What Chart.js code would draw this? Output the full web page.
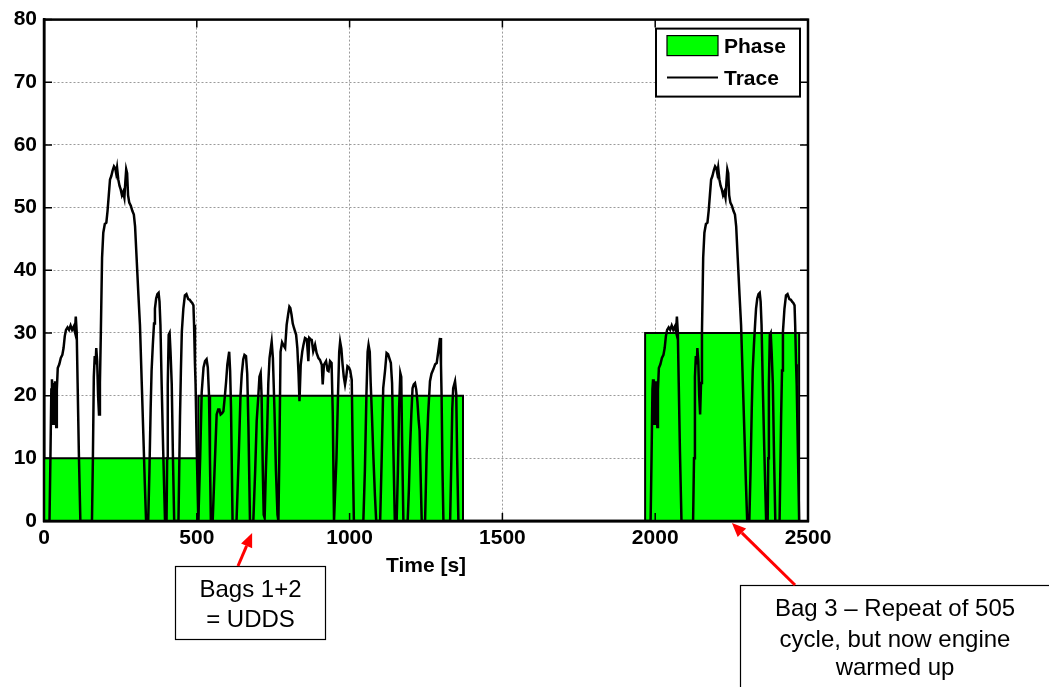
<!DOCTYPE html>
<html><head><meta charset="utf-8">
<script src="https://cdn.jsdelivr.net/npm/chart.js@4.4.0/dist/chart.umd.min.js"></script>
<style>html,body{margin:0;padding:0;background:#fff;} canvas{display:block;}</style>
</head><body>
<canvas id="c" width="1049" height="687"></canvas>
<script>
const xTicks = [0, 500, 1000, 1500, 2000, 2500];
const yTicks = [0, 10, 20, 30, 40, 50, 60, 70, 80];
const xTitle = 'Time [s]';
const legendLabels = ['Phase', 'Trace'];

const phaseStart = [0, 505, 1967];
const phaseEnd = [505, 1371, 2471];
const phaseLevel = [10, 20, 30];

const bag1Trace = [
[0,0],[18,0],[21,10],[24,21],[26,22.6],[28,18],[30,15.5],[32,22],[34,15.5],[36,22.3],[38,17],[40,15],[42,21],[45,24.4],[50,25],[55,26],[60,26.5],[64,27.6],[68,29.5],[72,30.5],[77,30.9],[82,30.5],[87,31.2],[92,30.5],[97,31],[101,30.2],[104,32.6],[107,30.2],[110,22],[114,11],[119,0],
[157,0],[160,10],[163,23],[166,26.3],[169,25],[171,27.6],[174,25.5],[177,20],[180,17],[183,22],[186,30],[190,42],[194,46],[199,47.4],[204,47.6],[208,49.5],[212,52],[216,54.5],[220,55],[225,56],[229,56.6],[233,56.3],[236,55.5],[239,56.4],[243,54.5],[247,53.5],[251,52.9],[255,52],[259,52.5],[263,51.6],[266,54],[269,56.1],[272,55.5],[275,52],[279,50.8],[284,50.3],[289,49.5],[294,48.9],[298,47],[303,42],[309,36],[314,31.3],[320,21.8],[325,13.9],[330,5.8],[334,0],
[341,0],[345,8],[349,18],[352,23.9],[356,28],[360,31.5],[363,33.9],[367,35.5],[371,36.2],[375,36.4],[378,35],[381,31.3],[385,21.8],[390,11.3],[396,0],
[401,0],[403,10],[405,21.8],[408,29.7],[411,30],[414,27],[418,21.8],[422,10],[426,0],
[440,0],[445,16.5],[448,24],[451,30.2],[456,33.9],[461,36],[466,36.2],[472,35.4],[477,35.3],[481,35],[485,34.8],[489,34.4],[491,31.3],[494,25],[496,21.8],[500,11],[505,0]
];

const bag2Trace = [
[511,10],[516,20.5],[522,24.5],[527,25.5],[532,25.8],[536,24.5],[540,20],[543,10],[546,0],
[552,0],[558,8],[565,17],[570,17.8],[574,17.8],[578,17],[583,17.2],[587,17.5],[592,20],[596,22.3],[600,25],[603,26],[606,27],[609,24],[612,18],[617,0],
[630,0],[637,10],[643,20],[647,23.4],[652,25.8],[656,26.5],[661,26.3],[665,23.5],[669,15],[674,0],
[685,0],[691,8],[696,16],[701,19.7],[705,23],[709,23.6],[712,20],[716,8],[719,1],[722,0.5],[726,8],[730,14],[734,22],[738,26],[742,27.5],[745,28.6],[749,26],[754,18],[759,8],[764,1],[767,0],
[770,10],[774,27],[779,28.5],[784,28],[789,27.6],[794,31.3],[799,33],[803,34.2],[806,34],[810,32.9],[814,31.5],[818,30.8],[825,29.7],[829,27.6],[833,23.4],[836,19.1],[840,24.9],[845,27],[849,28.1],[854,29.2],[860,29],[863,27],[865,25.5],[868,29.2],[872,29],[876,28.9],[881,27.1],[887,28.1],[892,26.8],[898,26],[903,25.7],[909,24.9],[912,21.8],[916,24.9],[923,25.5],[928,24],[931,23.9],[936,25.5],[941,25.2],[945,17],[949,0],
[952,0],[957,10],[962,20],[966,27],[969,28.6],[973,27.5],[977,25],[981,23],[985,21.8],[989,23],[993,24.7],[998,24.5],[1002,24],[1007,22.5],[1010,12],[1014,0],
[1045,0],[1050,8],[1055,20],[1059,27],[1062,28.1],[1066,27],[1069,22],[1073,17],[1078,10],[1083,4],[1087,0],
[1100,0],[1105,10],[1110,21.2],[1116,24],[1121,26.8],[1126,26.6],[1130,26],[1135,25.2],[1139,22],[1143,12],[1148,0],
[1154,0],[1158,8],[1162,18],[1166,23.6],[1169,23],[1172,12],[1176,0],
[1190,0],[1194,5],[1198,11.8],[1202,17],[1206,21.2],[1210,21.8],[1214,22],[1218,21],[1222,19],[1226,16],[1229,14.4],[1233,6],[1236,0],
[1247,0],[1252,10.7],[1257,17],[1263,22.3],[1268,23.5],[1274,24.2],[1280,25],[1285,25.2],[1290,27],[1294,28.5],[1296,29.2],[1299,25],[1301,19.9],[1304,8],[1307,0],
[1329,0],[1333,10],[1336,18],[1339,21.2],[1345,22.3],[1349,20.2],[1352,10],[1356,0],[1371,0]
];

const idleTrace = [[1371,0],[1967,0]];

const bag3Trace = [
[1967,0],[1985,0],[1988,10],[1991,21],[1993,22.6],[1995,18],[1997,15.5],[1999,22],[2001,15.5],[2003,22.3],[2005,17],[2007,15],[2009,21],[2012,24.4],[2017,25],[2022,26],[2027,26.5],[2031,27.6],[2035,29.5],[2039,30.5],[2044,30.9],[2049,30.5],[2054,31.2],[2059,30.5],[2064,31],[2068,30.2],[2071,32.6],[2074,30.2],[2077,22],[2081,11],[2086,0],
[2124,0],[2127,10],[2130,23],[2133,26.3],[2136,25],[2138,27.6],[2141,25.5],[2144,20],[2147,17],[2150,22],[2153,30],[2157,42],[2161,46],[2166,47.4],[2171,47.6],[2175,49.5],[2179,52],[2183,54.5],[2187,55],[2192,56],[2196,56.6],[2200,56.3],[2203,55.5],[2206,56.4],[2210,54.5],[2214,53.5],[2218,52.9],[2222,52],[2226,52.5],[2230,51.6],[2233,54],[2236,56.1],[2239,55.5],[2242,52],[2246,50.8],[2251,50.3],[2256,49.5],[2261,48.9],[2265,47],[2270,42],[2276,36],[2281,31.3],[2287,21.8],[2292,13.9],[2297,5.8],[2301,0],
[2308,0],[2312,8],[2316,18],[2319,23.9],[2323,28],[2327,31.5],[2330,33.9],[2334,35.5],[2338,36.2],[2342,36.4],[2345,35],[2348,31.3],[2352,21.8],[2357,11.3],[2363,0],
[2368,0],[2370,10],[2372,21.8],[2375,29.7],[2378,30],[2381,27],[2385,21.8],[2389,10],[2393,0],
[2407,0],[2412,16.5],[2415,24],[2418,30.2],[2423,33.9],[2428,36],[2433,36.2],[2439,35.4],[2444,35.3],[2448,35],[2452,34.8],[2456,34.4],[2458,31.3],[2461,25],[2463,21.8],[2467,11],[2471,0]
];

const FONT = "'Liberation Sans', Arial, sans-serif";

const tracePoints = [...bag1Trace, ...bag2Trace, ...idleTrace, ...bag3Trace].map(p => ({x: p[0], y: p[1]}));
const phasePoints = [];
phaseStart.forEach((s, i) => {
  phasePoints.push({x: s, y: 0}, {x: s, y: phaseLevel[i]}, {x: phaseEnd[i], y: phaseLevel[i]}, {x: phaseEnd[i], y: 0});
});

function arrow(ctx, x0, y0, x1, y1) {
  const ang = Math.atan2(y1 - y0, x1 - x0), L = 14, W = 6;
  const bx = x1 - L * Math.cos(ang), by = y1 - L * Math.sin(ang);
  ctx.beginPath(); ctx.moveTo(x0, y0); ctx.lineTo(bx, by); ctx.stroke();
  ctx.beginPath(); ctx.moveTo(x1, y1);
  ctx.lineTo(bx + W * Math.sin(ang), by - W * Math.cos(ang));
  ctx.lineTo(bx - W * Math.sin(ang), by + W * Math.cos(ang));
  ctx.closePath(); ctx.fill();
}

const decor = {
  id: 'decor',
  afterDatasetsDraw(chart) {
    const {ctx, chartArea: a, scales: {x, y}} = chart;
    ctx.save();
    ctx.strokeStyle = '#000';
    ctx.lineWidth = 1.5;
    ctx.beginPath();
    xTicks.forEach(v => {
      const px = x.getPixelForValue(v);
      ctx.moveTo(px, a.bottom); ctx.lineTo(px, a.bottom - 8);
      ctx.moveTo(px, a.top); ctx.lineTo(px, a.top + 8);
    });
    yTicks.forEach(v => {
      const py = y.getPixelForValue(v);
      ctx.moveTo(a.left, py); ctx.lineTo(a.left + 8, py);
      ctx.moveTo(a.right, py); ctx.lineTo(a.right - 8, py);
    });
    ctx.stroke();
    ctx.lineWidth = 2.5;
    ctx.strokeRect(a.left, a.top, a.right - a.left, a.bottom - a.top);

    // legend
    const lx = a.right - 152, ly = a.top + 9, lw = 144, lh = 68;
    ctx.fillStyle = '#fff';
    ctx.fillRect(lx, ly, lw, lh);
    ctx.lineWidth = 2;
    ctx.strokeRect(lx, ly, lw, lh);
    ctx.fillStyle = '#00ff00';
    ctx.fillRect(lx + 11, ly + 7, 51, 20);
    ctx.lineWidth = 1.2;
    ctx.strokeRect(lx + 11, ly + 7, 51, 20);
    ctx.lineWidth = 2;
    ctx.beginPath(); ctx.moveTo(lx + 11, ly + 49); ctx.lineTo(lx + 62, ly + 49); ctx.stroke();
    ctx.fillStyle = '#000';
    ctx.font = 'bold 21px ' + FONT;
    ctx.textAlign = 'left'; ctx.textBaseline = 'middle';
    ctx.fillText(legendLabels[0], lx + 68, ly + 19);
    ctx.fillText(legendLabels[1], lx + 68, ly + 51);
    ctx.restore();
  },
  afterDraw(chart) {
    const {ctx, scales: {x}} = chart;
    ctx.save();
    ctx.strokeStyle = '#000';
    ctx.lineWidth = 1.2;
    ctx.strokeRect(175.5, 566.5, 150, 73);
    ctx.strokeRect(740.5, 585.5, 400, 200);
    ctx.fillStyle = '#000';
    ctx.font = '24px ' + FONT;
    ctx.textAlign = 'center'; ctx.textBaseline = 'alphabetic';
    ctx.fillText('Bags 1+2', 250.5, 597);
    ctx.fillText('= UDDS', 250.5, 627);
    ctx.fillText('Bag 3 \u2013 Repeat of 505', 895, 615.5);
    ctx.fillText('cycle, but now engine', 895, 646.5);
    ctx.fillText('warmed up', 895, 675);
    ctx.strokeStyle = '#ff0000'; ctx.fillStyle = '#ff0000';
    ctx.lineWidth = 3;
    arrow(ctx, 238, 566, x.getPixelForValue(681), 533);
    arrow(ctx, 795, 585, x.getPixelForValue(2251), 523);
    ctx.restore();
  }
};

new Chart(document.getElementById('c'), {
  type: 'line',
  data: {
    datasets: [
      {label: legendLabels[1], data: tracePoints, borderColor: '#000', borderWidth: 2.5, pointRadius: 0, fill: false, tension: 0, order: 0},
      {label: legendLabels[0], data: phasePoints, borderColor: '#000', borderWidth: 2, backgroundColor: '#00ff00', fill: 'origin', pointRadius: 0, tension: 0, order: 1}
    ]
  },
  options: {
    responsive: false,
    animation: false,
    devicePixelRatio: 1,
    layout: {padding: {left: 0, top: 16, right: 241, bottom: 0}},
    plugins: {legend: {display: false}, tooltip: {enabled: false}},
    scales: {
      x: {
        type: 'linear', min: 0, max: 2500,
        afterBuildTicks: s => { s.ticks = xTicks.map(v => ({value: v})); },
        afterFit: s => { s.height = 166; },
        ticks: {color: '#000', font: {family: FONT, size: 21, weight: 'bold'}, padding: 5, maxRotation: 0, autoSkip: false, callback: v => String(v)},
        grid: {color: '#9a9a9a', lineWidth: 1, drawTicks: false},
        border: {display: true, color: '#000', width: 2.5, dash: [2, 2]},
        title: {display: true, text: xTitle, color: '#000', font: {family: FONT, size: 21, weight: 'bold'}, padding: {top: 0, bottom: 108}}
      },
      y: {
        min: 0, max: 80,
        afterBuildTicks: s => { s.ticks = yTicks.map(v => ({value: v})); },
        afterFit: s => { s.width = 44; },
        ticks: {color: '#000', font: {family: FONT, size: 21, weight: 'bold'}, padding: 7, callback: v => String(v)},
        grid: {color: '#9a9a9a', lineWidth: 1, drawTicks: false},
        border: {display: true, color: '#000', width: 2.5, dash: [2, 2]}
      }
    }
  },
  plugins: [decor]
});
</script>
</body></html>
